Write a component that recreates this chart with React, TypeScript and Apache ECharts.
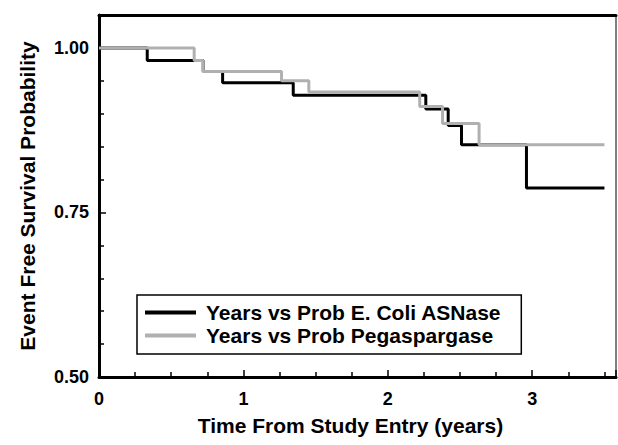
import React, { useEffect, useRef } from "react";
import * as echarts from "echarts";

// Kaplan-Meier step data: time of drop (years) and probability after drop
const coliTimes = [0, 0.334, 0.722, 0.856, 1.345, 2.263, 2.418, 2.51, 2.96, 3.5];
const coliProb = [1.0, 0.981, 0.964, 0.947, 0.928, 0.907, 0.882, 0.853, 0.787, 0.787];
const pegTimes = [0, 0.659, 0.722, 1.264, 1.453, 2.221, 2.379, 2.632, 3.5];
const pegProb = [1.0, 0.981, 0.964, 0.95, 0.933, 0.911, 0.885, 0.853, 0.853];
const seriesNames = ["Years vs Prob E. Coli ASNase", "Years vs Prob Pegaspargase"];
const xTickLabels = ["0", "1", "2", "3"];
const yTickLabels = ["0.50", "0.75", "1.00"];

const FONT = "'Liberation Sans', Arial, Helvetica, sans-serif";

export default function App() {
  const ref = useRef<HTMLDivElement>(null);
  useEffect(() => {
    if (!ref.current) return;
    const chart = echarts.init(ref.current, undefined, { renderer: "svg" });
    const zip = (t: number[], p: number[]) => t.map((x, i) => [x, p[i]]);
    chart.setOption({
      animation: false,
      backgroundColor: "#ffffff",
      grid: { left: 99, top: 15, width: 517, height: 362, show: true, borderColor: "#000", borderWidth: 1 },
      legend: {
        left: 137,
        top: 295,
        orient: "vertical",
        selectedMode: false,
        borderColor: "#000",
        borderWidth: 1.5,
        padding: [7, 20, 8, 8],
        itemWidth: 51,
        itemHeight: 4,
        itemGap: 2,
        icon: "rect",
        textStyle: { fontFamily: FONT, fontSize: 21, fontWeight: "bold", color: "#000", lineHeight: 21, padding: [0, 0, 0, 5] },
        data: seriesNames,
      },
      xAxis: [
        {
          type: "value",
          min: 0,
          max: 3.58,
          interval: 1,
          name: "Time From Study Entry (years)",
          nameLocation: "middle",
          nameGap: 38,
          nameTextStyle: { fontFamily: FONT, fontSize: 21, fontWeight: "bold", color: "#000", padding: [0, 14, 0, 0] },
          axisLine: { show: true, lineStyle: { color: "#000", width: 3 } },
          axisTick: { show: true, inside: true, length: 7, lineStyle: { color: "#000", width: 1.5 } },
          minorTick: { show: true, splitNumber: 4, length: 5, lineStyle: { color: "#000", width: 1.5 } },
          splitLine: { show: false },
          axisLabel: {
            margin: 13,
            showMaxLabel: false,
            fontFamily: FONT,
            fontSize: 18,
            fontWeight: "bold",
            color: "#000",
            formatter: (v: number) => xTickLabels[Math.round(v)] ?? "",
          },
        },
        {
          type: "value",
          position: "top",
          min: 0,
          max: 3.58,
          axisLine: { show: true, lineStyle: { color: "#000", width: 3 } },
          axisTick: { show: false },
          axisLabel: { show: false },
          splitLine: { show: false },
        },
      ],
      yAxis: {
        type: "value",
        min: 0.5,
        max: 1.05,
        interval: 0.25,
        name: "Event Free Survival Probability",
        nameLocation: "middle",
        nameGap: 61,
        nameTextStyle: { fontFamily: FONT, fontSize: 21, fontWeight: "bold", color: "#000" },
        axisLine: { show: true, lineStyle: { color: "#000", width: 3 } },
        axisTick: { show: true, inside: true, length: 7, lineStyle: { color: "#000", width: 1.5 } },
        minorTick: { show: true, splitNumber: 5, length: 5, lineStyle: { color: "#000", width: 1.5 } },
        splitLine: { show: false },
        axisLabel: {
          margin: 10,
          showMaxLabel: false,
          fontFamily: FONT,
          fontSize: 18,
          fontWeight: "bold",
          color: "#000",
          formatter: (v: number) => yTickLabels[Math.round((v - 0.5) / 0.25)] ?? "",
        },
      },
      series: [
        {
          name: seriesNames[0],
          type: "line",
          step: "end",
          showSymbol: false,
          symbol: "none",
          data: zip(coliTimes, coliProb),
          lineStyle: { color: "#000", width: 3 },
          itemStyle: { color: "#000" },
        },
        {
          name: seriesNames[1],
          type: "line",
          step: "end",
          showSymbol: false,
          symbol: "none",
          data: zip(pegTimes, pegProb),
          lineStyle: { color: "#b0b0b0", width: 3 },
          itemStyle: { color: "#b0b0b0" },
        },
      ],
    });
    return () => chart.dispose();
  }, []);
  return <div ref={ref} style={{ position: "fixed", left: 0, top: 0, width: 618, height: 445 }} />;
}
